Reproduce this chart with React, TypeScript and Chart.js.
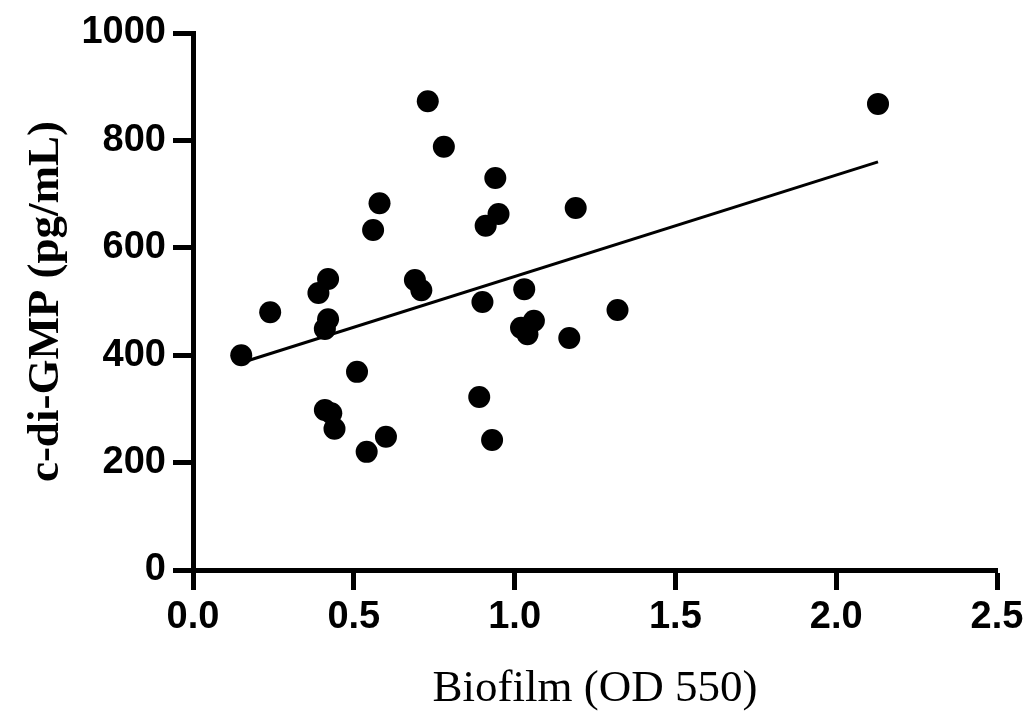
import React, { useEffect, useRef } from "react";
import { Chart, registerables } from "chart.js";

Chart.register(...registerables);

const biofilm = [
  0.15, 0.24, 0.39, 0.42, 0.42, 0.41, 0.41, 0.43, 0.44, 0.51, 0.54, 0.56, 0.58, 0.6, 0.69, 0.71,
  0.73, 0.78, 0.89, 0.9, 0.91, 0.93, 0.94, 0.95, 1.03, 1.02, 1.04, 1.06, 1.17, 1.19, 1.32, 2.13,
];
const cdiGMP = [
  400, 480, 516, 542, 467, 449, 298, 292, 263, 369, 220, 633, 683, 248, 540, 521,
  873, 788, 322, 499, 641, 242, 730, 663, 523, 451, 439, 464, 432, 674, 484, 868,
];
const trendX = [0.15, 2.13];
const trendY = [386, 760];
const xTicks = [0, 0.5, 1.0, 1.5, 2.0, 2.5];
const yTicks = [0, 200, 400, 600, 800, 1000];

export default function App() {
  const ref = useRef<HTMLCanvasElement>(null);
  useEffect(() => {
    if (!ref.current) return;
    const tickFont = { family: "'Liberation Sans', Arial, sans-serif", size: 38, weight: "bold" as const };
    const chart = new Chart(ref.current, {
      type: "scatter",
      data: {
        datasets: [
          {
            label: "samples",
            data: biofilm.map((x, i) => ({ x, y: cdiGMP[i] })),
            pointRadius: 11,
            pointHoverRadius: 11,
            pointBackgroundColor: "#000",
            pointBorderWidth: 0,
            showLine: false,
          },
          {
            label: "fit",
            data: trendX.map((x, i) => ({ x, y: trendY[i] })),
            showLine: true,
            borderColor: "#000",
            borderWidth: 3,
            pointRadius: 0,
            pointHoverRadius: 0,
          },
        ],
      },
      options: {
        responsive: false,
        animation: false,
        events: [],
        layout: { padding: { top: 33, right: 32, left: 0, bottom: 0 } },
        plugins: { legend: { display: false }, tooltip: { enabled: false } },
        scales: {
          x: {
            type: "linear",
            min: 0,
            max: 2.5,
            afterBuildTicks: (s: any) => {
              s.ticks = xTicks.map((v) => ({ value: v }));
            },
            afterFit: (s: any) => {
              s.height = 150;
            },
            ticks: {
              color: "#000",
              font: tickFont,
              padding: 5,
              callback: (v: any) => Number(v).toFixed(1),
            },
            grid: { drawOnChartArea: false, drawTicks: true, tickLength: 20, tickWidth: 5, tickColor: "#000" },
            border: { display: true, color: "#000", width: 5 },
            title: {
              display: true,
              text: "Biofilm (OD 550)",
              color: "#000",
              font: { family: "'Liberation Serif', 'Times New Roman', serif", size: 45, weight: "normal" as const },
              padding: { top: 0, bottom: 4 },
            },
          },
          y: {
            type: "linear",
            min: 0,
            max: 1000,
            afterBuildTicks: (s: any) => {
              s.ticks = yTicks.map((v) => ({ value: v }));
            },
            afterFit: (s: any) => {
              s.width = 193;
            },
            ticks: { color: "#000", font: tickFont, padding: 7, callback: (v: any) => String(v) },
            grid: { drawOnChartArea: false, drawTicks: true, tickLength: 20, tickWidth: 5, tickColor: "#000" },
            border: { display: true, color: "#000", width: 5 },
            title: {
              display: true,
              text: "c-di-GMP (pg/mL)",
              color: "#000",
              font: { family: "'Liberation Serif', 'Times New Roman', serif", size: 45, weight: "bold" as const },
              padding: { top: 19, bottom: 0 },
            },
          },
        },
      },
    });
    return () => chart.destroy();
  }, []);
  return (
    <div style={{ position: "fixed", left: 0, top: 0, width: 1029, height: 720, background: "#fff" }}>
      <canvas ref={ref} width={1029} height={720} style={{ display: "block" }} />
    </div>
  );
}
